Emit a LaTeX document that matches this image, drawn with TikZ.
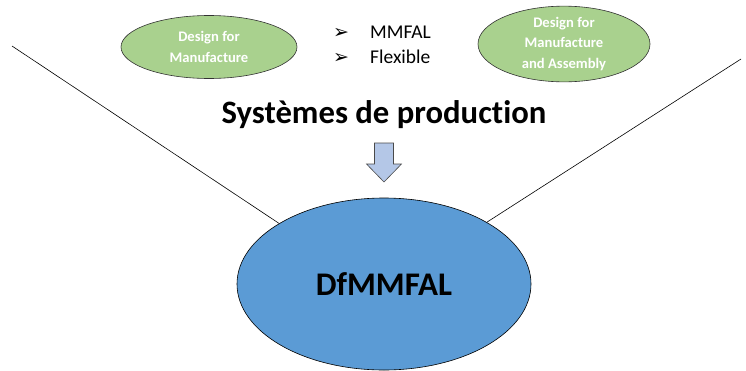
\documentclass[tikz,border=0pt]{standalone}
\usepackage{fontspec}
\setmainfont{Carlito}[Ligatures=NoCommon]
\newfontfamily\symfont{DejaVu Sans}
\usetikzlibrary{shapes.geometric}
\definecolor{greenfill}{HTML}{A9D18E}
\definecolor{bluefill}{HTML}{5B9BD5}
\definecolor{arrowfill}{HTML}{B4C7E7}
\definecolor{arrowline}{HTML}{4A4A4A}
\tikzset{
  greenell/.style={ellipse, draw=black!80, fill=greenfill, line width=0.6pt, inner sep=0pt, font=\bfseries\fontsize{14.6}{20.5}\selectfont, text=white, align=center},
  bigell/.style={ellipse, draw=black, fill=bluefill, line width=0.6pt, inner sep=0pt, font=\bfseries\fontsize{33}{36}\selectfont},
  linkline/.style={draw=black, line width=0.6pt},
  bullettext/.style={anchor=base west, font=\fontsize{19.5}{22}\selectfont, inner sep=0pt},
  bulletmark/.style={anchor=base west, font=\symfont\fontsize{19}{20}\selectfont, inner sep=0pt},
  downarrow/.style={draw=arrowline, fill=arrowfill, line width=0.6pt, line join=miter},
}
\begin{document}
\begin{tikzpicture}[x=1pt,y=-1pt]
\useasboundingbox (0,0) rectangle (746,370);
\coordinate (lA) at (12,46);
\coordinate (rA) at (741,59);
\node[bigell, minimum width=294pt, minimum height=172pt] (big) at (384,284) {DfMMFAL};
\draw[linkline] (lA) -- (big.150);
\draw[linkline] (rA) -- (big.31);
\node[greenell, minimum width=176pt, minimum height=63pt] (dfm) at (209,47) {Design for\\Manufacture};
\node[greenell, minimum width=172pt, minimum height=72pt] (dfma) at (564,44) {Design for\\Manufacture\\and Assembly};
\node[bulletmark] (m1) at (333,38) {➢};
\node[bullettext] (b1) at (370,38) {MMFAL};
\node[bulletmark] (m2) at (333,63) {➢};
\node[bullettext] (b2) at (370,63) {Flexible};
\node[font=\bfseries\fontsize{32.7}{35}\selectfont, anchor=base, inner sep=0pt] (title) at (384,123) {Systèmes de production};
% down arrow
\coordinate (arrtip) at (384,182);
\draw[downarrow] (374.5,143) -- (393.5,143) -- (393.5,164) -- (401.5,164) -- (arrtip) -- (366.5,164) -- (374.5,164) -- cycle;
\end{tikzpicture}
\end{document}
